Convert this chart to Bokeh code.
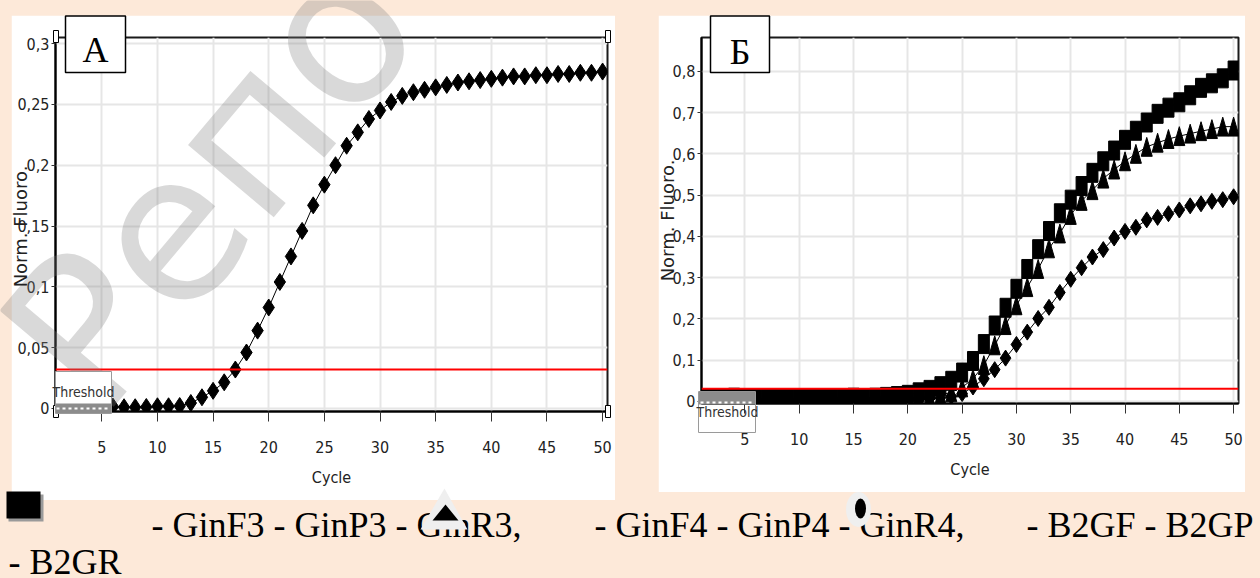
from bokeh.plotting import figure
from bokeh.models import (Range1d, FixedTicker, Span,
                          CustomJSTickFormatter, GlobalInlineStyleSheet)
from bokeh.layouts import row, column
from bokeh.embed import file_html
from bokeh.resources import INLINE
from bokeh.core.properties import value

# ---------------- data ----------------
CYCLES = list(range(1, 51))

A_VALUES = [0.001, 0.001, 0.0015, 0.001, 0.001, 0.0015, 0.001, 0.001, 0.0012, 0.0018,
            0.0018, 0.002, 0.0045, 0.0092, 0.0145, 0.0215, 0.032, 0.046, 0.064, 0.083,
            0.104, 0.125, 0.146, 0.167, 0.184, 0.200, 0.216, 0.227, 0.238, 0.245,
            0.252, 0.257, 0.260, 0.262, 0.264, 0.266, 0.268, 0.269, 0.270, 0.271,
            0.272, 0.273, 0.273, 0.274, 0.274, 0.275, 0.275, 0.276, 0.276, 0.277]

B_SQUARES = [0.008, 0.007, 0.008, 0.009, 0.008, 0.007, 0.008, 0.008, 0.007, 0.008,
             0.008, 0.007, 0.008, 0.008, 0.009, 0.008, 0.009, 0.011, 0.013, 0.016,
             0.022, 0.028, 0.037, 0.050, 0.070, 0.098, 0.139, 0.184, 0.227, 0.273,
             0.321, 0.369, 0.413, 0.456, 0.489, 0.522, 0.554, 0.582, 0.608, 0.634,
             0.656, 0.676, 0.697, 0.712, 0.725, 0.742, 0.760, 0.771, 0.783, 0.802]

B_TRIANGLES = [0.004, 0.004, 0.005, 0.004, 0.004, 0.005, 0.004, 0.004, 0.005, 0.004,
               0.004, 0.005, 0.004, 0.004, 0.005, 0.004, 0.005, 0.005, 0.006, 0.007,
               0.009, 0.012, 0.016, 0.022, 0.034, 0.055, 0.088, 0.136, 0.185, 0.233,
               0.277, 0.321, 0.371, 0.407, 0.452, 0.486, 0.512, 0.540, 0.562, 0.582,
               0.600, 0.617, 0.627, 0.636, 0.643, 0.649, 0.655, 0.660, 0.666, 0.666]

B_DIAMONDS = [0.003, 0.003, 0.003, 0.003, 0.003, 0.003, 0.003, 0.003, 0.003, 0.003,
              0.003, 0.003, 0.003, 0.003, 0.003, 0.003, 0.003, 0.003, 0.004, 0.004,
              0.005, 0.007, 0.009, 0.012, 0.019, 0.035, 0.055, 0.077, 0.105, 0.138,
              0.168, 0.201, 0.228, 0.264, 0.296, 0.324, 0.350, 0.368, 0.396, 0.412,
              0.422, 0.440, 0.446, 0.455, 0.464, 0.474, 0.479, 0.485, 0.489, 0.496]

THRESHOLD_A = 0.032
THRESHOLD_B = 0.031

X_TICKS = [5, 10, 15, 20, 25, 30, 35, 40, 45, 50]
A_Y_TICKS = [0, 0.05, 0.1, 0.15, 0.2, 0.25, 0.3]
A_Y_LABELS = ["0", "0,05", "0,1", "0,15", "0,2", "0,25", "0,3"]
B_Y_TICKS = [0, 0.1, 0.2, 0.3, 0.4, 0.5, 0.6, 0.7, 0.8]
B_Y_LABELS = ["0", "0,1", "0,2", "0,3", "0,4", "0,5", "0,6", "0,7", "0,8"]

Y_TITLE = "Norm. Fluoro."
X_TITLE = "Cycle"
PANEL_TAGS = ["A", "Б"]
THRESHOLD_TEXT = "Threshold"
WATERMARK = "Репо"
LEGEND_LINE1 = ["- GinF3 - GinP3 - GinR3,", "- GinF4 - GinP4 - GinR4,", "- B2GF - B2GP"]
LEGEND_LINE2 = ["- B2GR"]

# ---------------- style ----------------
PEACH = "#FDE9D9"
COND = "DejaVu Sans Condensed"
SERIF = "Liberation Serif"
GRID = "#e6e6e6"
PAGE_W, PAGE_H = 1260, 578


def tick_fmt(tvals, tlabels):
    return CustomJSTickFormatter(args=dict(tvals=tvals, tlabels=tlabels), code="""
        const i = tvals.findIndex(t => Math.abs(t - tick) < 1e-9);
        return i >= 0 ? tlabels[i] : String(tick);
    """)


def make_panel(width, height, borders, xr, yr, yticks, ylabels, margin):
    left, right, top, bottom = borders
    p = figure(width=width, height=height, x_range=Range1d(*xr), y_range=Range1d(*yr),
               output_backend="svg", toolbar_location=None,
               min_border_left=left, min_border_right=right,
               min_border_top=top, min_border_bottom=bottom, margin=margin)
    p.background_fill_color = "white"
    p.border_fill_color = "white"
    p.outline_line_color = "#1a1a1a"
    p.outline_line_width = 2

    p.xaxis.ticker = FixedTicker(ticks=X_TICKS)
    p.yaxis.ticker = FixedTicker(ticks=yticks)
    p.yaxis.formatter = tick_fmt(yticks, ylabels)
    for ax in (p.xaxis[0], p.yaxis[0]):
        ax.axis_line_color = "black"
        ax.axis_line_width = 2
        ax.major_tick_line_color = "#333333"
        ax.major_tick_in = 0
        ax.minor_tick_line_color = None
        ax.major_label_text_font = COND
        ax.major_label_text_font_size = "16px"
        ax.major_label_text_color = "#222222"
    p.yaxis.major_tick_out = 4
    p.yaxis.major_label_standoff = 2
    p.xaxis.major_tick_out = 10
    p.xaxis.major_label_standoff = 19
    p.xaxis.axis_label = X_TITLE
    p.xaxis.axis_label_text_font = COND
    p.xaxis.axis_label_text_font_size = "16px"
    p.xaxis.axis_label_text_font_style = "normal"
    p.xaxis.axis_label_text_color = "#222222"
    p.xaxis.axis_label_standoff = 12

    p.xgrid.ticker = FixedTicker(ticks=X_TICKS)
    p.ygrid.ticker = FixedTicker(ticks=yticks)
    p.grid.grid_line_color = GRID
    p.grid.grid_line_width = 2
    return p


# ---------------- panel A (page x 11..615, y 15..500) ----------------
pa = make_panel(604, 485, (44, 8, 22, 89), (0.84, 50.44), (-0.0025, 0.305),
                A_Y_TICKS, A_Y_LABELS, (15, 43, 0, 11))
pa.line(CYCLES, A_VALUES, line_color="black", line_width=1)
pa.scatter(CYCLES, A_VALUES, marker="diamond", size=17, fill_color="black", line_color="black")
pa.add_layout(Span(location=THRESHOLD_A, dimension="width", line_color="red", line_width=2))

# ---------------- panel B (page x 658..1245, y 15..492) ----------------
BX = (1.0, 50.45)
BY = (-0.005, 0.882)
pb = make_panel(587, 477, (43, 7, 21, 88), BX, BY, B_Y_TICKS, B_Y_LABELS, (15, 15, 0, 0))
sxb = 537 / (BX[1] - BX[0])
syb = 368 / (BY[1] - BY[0])

pb.line(CYCLES, B_SQUARES, line_color="black", line_width=1)
pb.line(CYCLES, B_TRIANGLES, line_color="black", line_width=1)
pb.line(CYCLES, B_DIAMONDS, line_color="black", line_width=1)
pb.rect(CYCLES, B_SQUARES, width=11, height=19, width_units="screen", height_units="screen",
        fill_color="black", line_color="black")
hw = 5.5 / sxb
hh = 19 / syb
tri_xs = [[c - hw, c + hw, c] for c in CYCLES]
tri_ys = [[v - hh / 2, v - hh / 2, v + hh / 2] for v in B_TRIANGLES]
pb.patches(tri_xs, tri_ys, fill_color="black", line_color="black")
pb.scatter(CYCLES, B_DIAMONDS, marker="diamond", size=16, fill_color="black", line_color="black")
pb.add_layout(Span(location=THRESHOLD_B, dimension="width", line_color="red", line_width=2))

# ---------------- transparent overlay in page coordinates ----------------
po = figure(width=PAGE_W, height=PAGE_H, x_range=Range1d(0, PAGE_W), y_range=Range1d(PAGE_H, 0),
            output_backend="svg", toolbar_location=None, min_border=0, margin=(-500, 0, 0, 0))
po.axis.visible = False
po.grid.visible = False
po.outline_line_color = None
po.background_fill_alpha = 0
po.border_fill_alpha = 0

# watermark
po.text(x=[46], y=[376], text=[WATERMARK], angle=0.87, text_font=value("DejaVu Sans"),
        text_font_size="205px", text_color="#808080", text_alpha=0.3,
        text_align="left", text_baseline="middle")

# y titles
po.text(x=[20, 667], y=[226, 220], text=[Y_TITLE, Y_TITLE], angle=1.5708,
        text_font=value("DejaVu Sans"), text_font_size="18px", text_color="#222222",
        text_align="center", text_baseline="middle")

# corner handles of panel A
po.quad(left=[53, 605, 605, 53], right=[58, 610, 610, 58], top=[30, 30, 405, 405],
        bottom=[42, 42, 417, 417], fill_color="white", line_color="black", line_width=1)

# threshold boxes
po.quad(left=[55], right=[111], top=[371], bottom=[413], fill_color="white",
        line_color="#9a9a9a", line_width=1)
po.quad(left=[698], right=[755], top=[391], bottom=[432], fill_color=None,
        line_color="#9a9a9a", line_width=1)
po.quad(left=[55.5, 698.5], right=[110.5, 754.5], top=[403, 391], bottom=[412.5, 404],
        fill_color="#8c8c8c", line_color=None)
po.segment(x0=[56, 700], y0=[408, 402], x1=[110, 754], y1=[408, 402], line_color="white",
           line_width=2, line_dash="3 3")
po.text(x=[83, 727], y=[391, 411], text=[THRESHOLD_TEXT, THRESHOLD_TEXT],
        text_font=value(COND), text_font_size="14px", text_color="#333333",
        text_align="center", text_baseline="middle")

# panel tags
po.quad(left=[65, 710], right=[125, 769], top=[15.5, 15.5], bottom=[72, 72],
        fill_color="white", line_color="black", line_width=1.5)
po.text(x=[95, 739.5], y=[49, 51], text=PANEL_TAGS, text_font=value(SERIF),
        text_font_size="36px", text_color="black", text_align="center",
        text_baseline="middle")

# legend line
po.text(x=[151, 594, 1026], y=[524, 524, 524], text=LEGEND_LINE1,
        text_font=value(SERIF), text_font_size="36px", text_color="black",
        text_baseline="middle", text_align="left")
po.text(x=[8], y=[561], text=LEGEND_LINE2, text_font=value(SERIF), text_font_size="36px",
        text_color="black", text_baseline="middle", text_align="left")

po.quad(left=[8], right=[43], top=[494], bottom=[521], fill_color="#9a9a9a", line_color=None)
po.quad(left=[6], right=[40], top=[491], bottom=[518], fill_color="black", line_color=None)
po.patch(x=[420, 467, 444], y=[529, 529, 488], fill_color="#efefef", line_color=None)
po.patch(x=[432, 458, 445], y=[520, 520, 504], fill_color="black", line_color=None)
po.ellipse(x=[858], y=[509], width=25, height=35, fill_color="#efefef", line_color=None)
po.ellipse(x=[860], y=[508], width=11, height=20, fill_color="black", line_color=None)

page = column(row(pa, pb), po,
              stylesheets=[GlobalInlineStyleSheet(
                  css=f"html, body {{ margin: 0; padding: 0; background-color: {PEACH}; overflow: hidden; }}")])

open("out.html", "w").write(file_html(page, INLINE))
